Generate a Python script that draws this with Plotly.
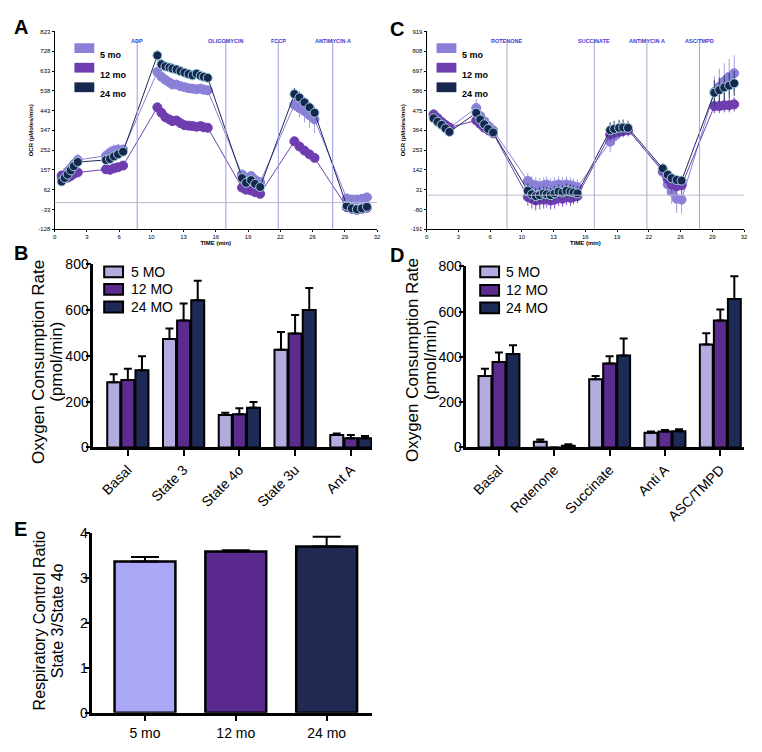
import plotly.graph_objects as go

W, H = 762, 752
def fx(px): return px / W
def fy(py): return 1 - py / H

FONT = "Arial, Liberation Sans, sans-serif"

# ---------------- Panel A (kinetic OCR) ----------------
a_time = [0.7, 1.0, 1.3, 1.6, 1.9, 2.3,
          5.1, 5.5, 5.9, 6.3, 6.8,
          10.2, 10.6, 11.0, 11.4, 11.7, 12.1, 12.5, 12.9, 13.3, 13.7, 14.1, 14.5, 14.8, 15.2,
          18.6, 19.0, 19.5, 19.9, 20.4,
          23.8, 24.3, 24.8, 25.3, 25.8,
          29.0, 29.5, 30.0, 30.5, 31.0]
a_5mo = [115, 130, 150, 165, 185, 205,
         225, 240, 250, 255, 255,
         628, 605, 590, 578, 568, 568, 560, 555, 550, 548, 545, 548, 543, 540,
         135, 120, 128, 110, 98,
         470, 455, 440, 420, 400,
         20, 15, 15, 18, 25]
a_12mo = [130, 122, 120, 128, 138, 145,
          160, 158, 165, 170, 178,
          458, 432, 410, 400, 392, 395, 382, 372, 370, 368, 365, 368, 362, 360,
          72, 62, 58, 50, 42,
          295, 270, 250, 232, 215,
          -22, -30, -35, -30, -25]
a_24mo = [101, 118, 135, 155, 175, 195,
          205, 210, 222, 232, 245,
          708, 665, 655, 650, 645, 640, 632, 625, 618, 612, 620, 610, 605, 600,
          118, 95, 108, 90, 75,
          522, 505, 482, 458, 432,
          -15, -28, -32, -28, -20]
a_5mo_err = [20, 22, 25, 25, 28, 30,
             30, 32, 30, 28, 25,
             20, 18, 18, 18, 20, 18, 20, 20, 22, 20, 18, 18, 20, 18,
             18, 18, 20, 18, 15,
             30, 45, 55, 60, 65,
             12, 12, 12, 12, 12]
a_12mo_err = [12, 10, 10, 10, 12, 12,
              12, 12, 12, 12, 12,
              12, 12, 12, 12, 12, 12, 12, 12, 12, 12, 12, 12, 12, 12,
              12, 12, 12, 12, 12,
              12, 12, 12, 12, 12,
              10, 10, 10, 10, 10]
a_24mo_err = [15, 15, 15, 18, 18, 18,
              15, 15, 15, 18, 18,
              25, 25, 22, 22, 22, 20, 20, 20, 20, 20, 18, 18, 18, 18,
              20, 20, 20, 18, 18,
              30, 28, 25, 22, 20,
              12, 12, 12, 12, 12]
a_inj_names = ["ADP", "OLIGOMYCIN", "FCCP", "ANTIMYCIN A"]
a_inj_times = [8.2, 17.0, 22.2, 27.6]

# ---------------- Panel C (kinetic OCR) ----------------
c_time = [0.7, 1.1, 1.5, 1.9, 2.3,
          5.0, 5.4, 5.8, 6.2, 6.7,
          10.2, 10.6, 11.0, 11.4, 11.8, 12.1, 12.5, 12.9, 13.3, 13.7, 14.1, 14.5, 14.8, 15.2,
          18.5, 18.9, 19.4, 19.8, 20.3,
          23.8, 24.3, 24.7, 25.2, 25.7,
          29.0, 29.5, 30.0, 30.5, 31.0]
c_5mo = [455, 435, 412, 395, 378,
         490, 445, 415, 390, 365,
         80, 60, 55, 50, 55, 60, 50, 55, 60, 55, 60, 55, 50, 45,
         300, 330, 355, 365, 370,
         130, 60, 20, -20, -25,
         580, 610, 640, 665, 685]
c_12mo = [450, 428, 410, 392, 380,
          420, 400, 380, 365, 348,
          -10, -20, -30, -25, -25, -20, -30, -25, -15, -20, -10, -15, -10, -5,
          340, 350, 355, 360, 365,
          140, 90, 60, 50, 55,
          500, 500, 505, 505, 510]
c_24mo = [432, 412, 395, 375, 355,
          462, 425, 398, 372, 352,
          25, 5, -5, 0, 10, 5, 0, 10, 20, 15, 25, 20, 15, 10,
          365, 372, 378, 380, 378,
          150, 115, 95, 85, 82,
          575, 590, 605, 615, 628]
c_5mo_err = [30, 30, 30, 30, 30,
             50, 50, 45, 45, 40,
             45, 45, 45, 45, 45, 45, 45, 45, 45, 45, 45, 45, 45, 45,
             60, 50, 40, 35, 30,
             40, 60, 70, 80, 80,
             90, 100, 100, 100, 100]
c_12mo_err = [25, 25, 25, 25, 25,
              35, 35, 30, 30, 30,
              50, 55, 55, 55, 50, 50, 50, 50, 45, 45, 45, 45, 40, 40,
              40, 40, 35, 35, 35,
              40, 45, 50, 50, 50,
              40, 40, 40, 40, 40]
c_24mo_err = [25, 25, 25, 25, 25,
              30, 30, 30, 30, 30,
              40, 45, 45, 45, 40, 40, 40, 40, 40, 40, 40, 40, 40, 40,
              45, 45, 45, 45, 40,
              25, 25, 25, 25, 25,
              70, 70, 70, 70, 70]
c_inj_names = ["ROTENONE", "SUCCINATE", "ANTIMYCIN A", "ASC/TMPD"]
c_inj_times = [8.1, 16.9, 22.2, 27.5]

kin_yticks_a = [-128, -32.9, 62.2, 157.3, 252.4, 347.5, 442.6, 537.7, 632.8, 727.9, 823]
kin_ylabels_a = ["-128", "-33", "62", "157", "252", "347", "443", "538", "633", "728", "823"]
kin_yticks_c = [-191, -80, 31, 142, 253, 364, 475, 586, 697, 808, 919]
kin_ylabels_c = ["-191", "-80", "31", "142", "253", "364", "475", "586", "697", "808", "919"]
kin_xticks = [0, 3.2, 6.4, 9.6, 12.8, 16, 19.2, 22.4, 25.6, 28.8, 32]
kin_xlabels = ["0", "3", "6", "10", "13", "16", "19", "22", "26", "29", "32"]

# ---------------- Panel B ----------------
b_cats = ["Basal", "State 3", "State 4o", "State 3u", "Ant A"]
b_5mo = [285, 474, 142, 427, 54]
b_5mo_err = [35, 46, 10, 78, 7]
b_12mo = [295, 555, 145, 498, 40]
b_12mo_err = [49, 74, 26, 81, 14]
b_24mo = [337, 643, 174, 601, 40]
b_24mo_err = [62, 86, 25, 96, 10]

# ---------------- Panel D ----------------
d_cats = ["Basal", "Rotenone", "Succinate", "Anti A", "ASC/TMPD"]
d_5mo = [316, 25, 301, 65, 455]
d_5mo_err = [32, 10, 15, 5, 49]
d_12mo = [377, 0, 371, 70, 561]
d_12mo_err = [43, 0, 32, 7, 48]
d_24mo = [413, 7, 406, 72, 656]
d_24mo_err = [39, 7, 75, 8, 100]

# ---------------- Panel E ----------------
e_cats = ["5 mo", "12 mo", "24 mo"]
e_vals = [3.36, 3.58, 3.69]
e_err = [0.10, 0.03, 0.22]

group_names = ["5 mo", "12 mo", "24 mo"]
bar_legend = ["5 MO", "12 MO", "24 MO"]
kin_fill = ["#8a80d8", "#6e3db0", "#16284f"]
kin_edge = ["#8a80d8", "#6e3db0", "#9fd0dc"]
kin_line = ["#8a80d8", "#7040b0", "#1a2a55"]
kin_err = ["#a49ce6", "#8050c0", "#2a3a66"]
bar_cols = ["#b3acdf", "#5b2c8e", "#1e2a56"]
e_cols = ["#aaa7f6", "#5b2a8e", "#1f2951"]

fig = go.Figure()

def add_kin(xa, ya, times, series, errs):
    for i in range(3):
        fig.add_trace(go.Scatter(
            x=times, y=series[i], mode="lines+markers", name=group_names[i],
            xaxis=xa, yaxis=ya,
            line=dict(color=kin_line[i], width=1),
            marker=dict(size=9, color=kin_fill[i], line=dict(color=kin_edge[i], width=1)),
            error_y=dict(type="data", array=errs[i], color=kin_err[i], thickness=1, width=0),
            showlegend=False))

add_kin("x", "y", a_time, [a_5mo, a_12mo, a_24mo], [a_5mo_err, a_12mo_err, a_24mo_err])
add_kin("x2", "y2", c_time, [c_5mo, c_12mo, c_24mo], [c_5mo_err, c_12mo_err, c_24mo_err])

def add_bars(xa, ya, cats, series, errs):
    for i in range(3):
        fig.add_trace(go.Bar(
            x=cats, y=series[i], name=bar_legend[i], xaxis=xa, yaxis=ya,
            marker=dict(color=bar_cols[i], line=dict(color="black", width=2)),
            error_y=dict(type="data", symmetric=False, array=errs[i],
                         arrayminus=[0] * len(cats), color="black", thickness=2, width=4),
            offsetgroup=str(i), showlegend=False))

add_bars("x3", "y3", b_cats, [b_5mo, b_12mo, b_24mo], [b_5mo_err, b_12mo_err, b_24mo_err])
add_bars("x4", "y4", d_cats, [d_5mo, d_12mo, d_24mo], [d_5mo_err, d_12mo_err, d_24mo_err])

fig.add_trace(go.Bar(
    x=e_cats, y=e_vals, xaxis="x5", yaxis="y5", width=0.67,
    marker=dict(color=e_cols, line=dict(color="black", width=2.5)),
    error_y=dict(type="data", symmetric=False, array=e_err, arrayminus=[0, 0, 0],
                 color="black", thickness=2, width=14),
    showlegend=False))

kin_x = dict(range=[0, 32], tickvals=kin_xticks, ticktext=kin_xlabels,
             showline=True, linecolor="black", linewidth=1, ticks="outside",
             ticklen=2, tickcolor="black", showgrid=False, zeroline=False,
             tickfont=dict(size=6, family=FONT, color="black"),
             title=dict(text="<b>TIME (min)</b>", font=dict(size=6, family=FONT, color="black"),
                        standoff=1))
def kin_y(tv, tt, rng):
    return dict(range=rng, tickvals=tv, ticktext=tt, showline=True, linecolor="black",
                linewidth=1, ticks="outside", ticklen=2, tickcolor="black",
                showgrid=False, zeroline=False,
                tickfont=dict(size=6, family=FONT, color="black"),
                title=dict(text="<b>OCR (pMoles/min)</b>",
                           font=dict(size=6, family=FONT, color="black"), standoff=4))

def bar_x(rng, angle):
    return dict(range=rng, showline=True, linecolor="black", linewidth=2.5,
                ticks="outside", ticklen=6, tickwidth=2, tickcolor="black",
                showgrid=False, tickangle=angle,
                tickfont=dict(size=14, family=FONT, color="black"))
def bar_y(rng, dtick):
    return dict(range=rng, dtick=dtick, showline=True, linecolor="black", linewidth=2.5,
                ticks="outside", ticklen=5, tickwidth=2, tickcolor="black",
                showgrid=False, zeroline=False, ticklabelstandoff=-6,
                tickfont=dict(size=14, family=FONT, color="black"))

fig.update_layout(
    width=W, height=H, margin=dict(l=0, r=0, t=0, b=0),
    paper_bgcolor="white", plot_bgcolor="white",
    font=dict(family=FONT, color="black"),
    barmode="group", bargap=0.24, bargroupgap=0.08,
    showlegend=False,
    xaxis=dict(domain=[fx(53), fx(378)], anchor="y", **kin_x),
    yaxis=dict(domain=[fy(226), fy(24)], anchor="x", **kin_y(kin_yticks_a, kin_ylabels_a, [-128, 823])),
    xaxis2=dict(domain=[fx(428), fx(748)], anchor="y2", **kin_x),
    yaxis2=dict(domain=[fy(226), fy(24)], anchor="x2", **kin_y(kin_yticks_c, kin_ylabels_c, [-191, 919])),
    xaxis3=dict(domain=[fx(92), fx(373)], anchor="y3", **bar_x([-0.62, 4.38], -45)),
    yaxis3=dict(domain=[fy(449), fy(262)], anchor="x3", **bar_y([0, 800], 200)),
    xaxis4=dict(domain=[fx(468), fx(748)], anchor="y4", **bar_x([-0.59, 4.43], -45)),
    yaxis4=dict(domain=[fy(449), fy(264)], anchor="x4", **bar_y([0, 800], 200)),
    xaxis5=dict(domain=[fx(91), fx(373)], anchor="y5", **bar_x([-0.58, 2.5], 0)),
    yaxis5=dict(domain=[fy(720), fy(536)], anchor="x5", **bar_y([0, 4], 1)),
)

shapes = []
annots = []
# injection lines, zero lines
for xa, ya, names, times, col in [("x", "y", a_inj_names, a_inj_times, "#9a9ae6"),
                                 ("x2", "y2", c_inj_names, c_inj_times, "#a8a8c8")]:
    for n, t in zip(names, times):
        shapes.append(dict(type="line", xref=xa, yref=ya + " domain", x0=t, x1=t, y0=0, y1=0.955,
                           line=dict(color=col, width=1)))
        annots.append(dict(x=t, y=0.975, xref=xa, yref=ya + " domain", text="<b>%s</b>" % n,
                           showarrow=False, font=dict(size=5.5, color="#3b3bd0", family=FONT)))
    shapes.append(dict(type="line", xref=xa + " domain", yref=ya, x0=0, x1=1, y0=0, y1=0,
                       line=dict(color="#b8b8d0", width=1)))

# kinetic legends
for lx, tx in [(73, 97), (438, 462)]:
    for i, py in enumerate([36, 56, 76]):
        shapes.append(dict(type="rect", xref="paper", yref="paper",
                           x0=fx(lx), x1=fx(lx + 20), y0=fy(py + 10), y1=fy(py),
                           fillcolor=kin_fill[i], line=dict(width=0)))
        annots.append(dict(x=fx(tx), y=fy(py + 5), xref="paper", yref="paper", xanchor="left",
                           text="<b>%s</b>" % group_names[i], showarrow=False,
                           font=dict(size=9, family=FONT, color="black")))

# bar legends
for lx, tx, rows in [(103, 128, [264, 282, 300]), (482, 506, [264, 283, 301])]:
    for i, py in enumerate(rows):
        shapes.append(dict(type="rect", xref="paper", yref="paper",
                           x0=fx(lx), x1=fx(lx + 19), y0=fy(py + 11), y1=fy(py),
                           fillcolor=bar_cols[i], line=dict(color="black", width=2)))
        annots.append(dict(x=fx(tx), y=fy(py + 5.5), xref="paper", yref="paper", xanchor="left",
                           text=bar_legend[i], showarrow=False,
                           font=dict(size=14, family=FONT, color="black")))

# bar chart y titles (one annotation per line)
for txt, px, py, size in [("Oxygen Consumption Rate", 37, 362, 17),
                          ("(pmol/min)", 55, 362, 17),
                          ("Oxygen Consumption Rate", 414, 360, 17),
                          ("(pmol/min)", 432, 360, 17),
                          ("Respiratory Control Ratio", 38, 626, 16),
                          ("State 3/State 4o", 56, 626, 16)]:
    annots.append(dict(x=fx(px), y=fy(py), xref="paper", yref="paper", xanchor="center",
                       yanchor="middle", textangle=-90, text=txt, showarrow=False,
                       font=dict(size=size, family=FONT, color="black")))

# panel letters
for letter, px, py in [("A", 10, 19), ("B", 10, 250), ("C", 389, 21), ("D", 389, 252), ("E", 10, 532)]:
    annots.append(dict(x=fx(px), y=fy(py), xref="paper", yref="paper", xanchor="left",
                       yanchor="middle", text="<b>%s</b>" % letter, showarrow=False,
                       font=dict(size=20, family=FONT, color="black")))

fig.update_layout(shapes=shapes, annotations=annots)
fig.write_html("out.html", config={"displayModeBar": False},
               post_script="document.body.style.margin='0px';document.body.style.padding='0px';")
